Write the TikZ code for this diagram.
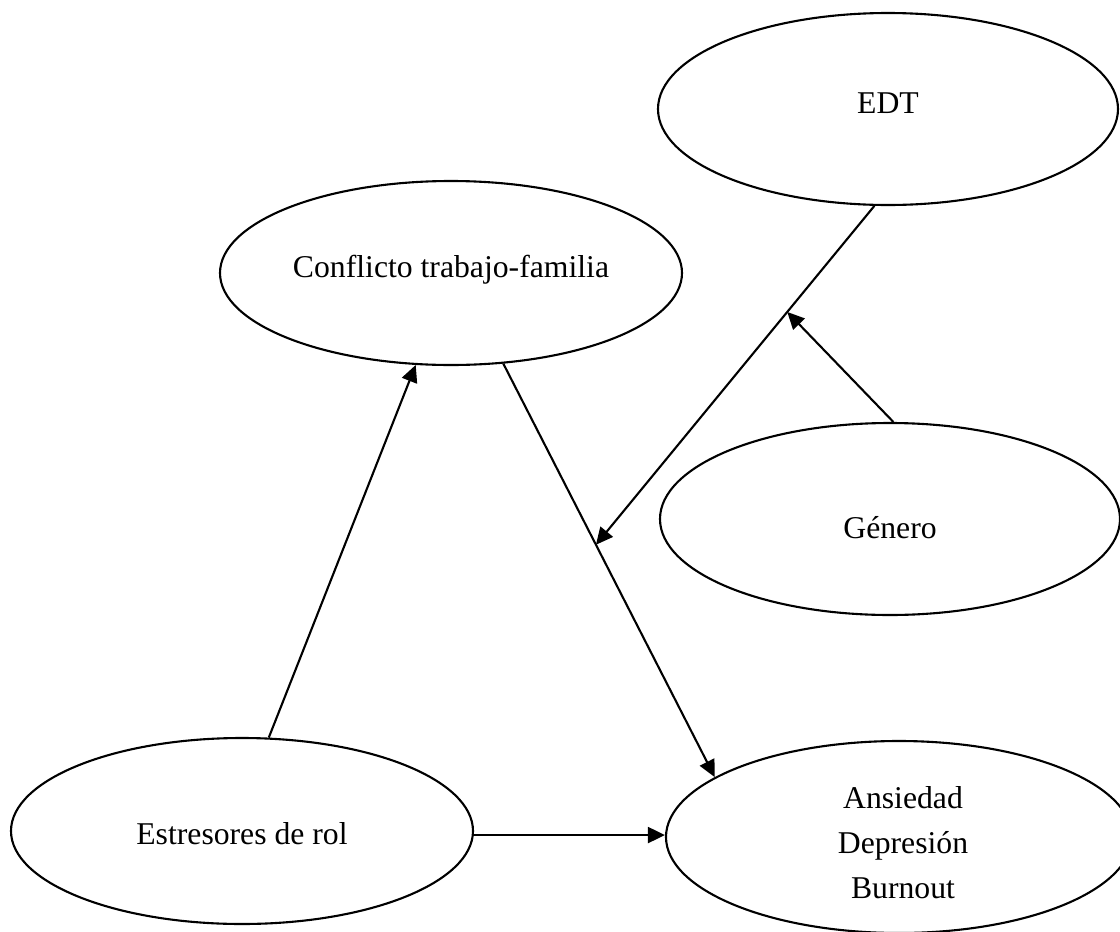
\documentclass[tikz,border=0pt]{standalone}
\usepackage{fontspec}
\setmainfont{Liberation Serif}
\usetikzlibrary{shapes.geometric,arrows.meta,calc}

% move a label inside its ellipse by padding the box above or below
\newcommand{\txtdown}[2]{\raisebox{0pt}[\dimexpr\height+#1\relax][\depth]{#2}}
\newcommand{\txtup}[2]{\raisebox{0pt}[\height][\dimexpr\depth+#1\relax]{#2}}

\begin{document}
\begin{tikzpicture}[x=1pt,y=1pt,
  var/.style={draw, ellipse, line width=2.1pt, inner sep=0pt, align=center,
    font=\fontsize{31.7}{45}\selectfont},
  link/.style={line width=2.1pt, -{Triangle[length=17pt,width=16pt]}}]
  \useasboundingbox (0,0) rectangle (1120,-932);

  % variables
  \node[var, minimum width=460pt, minimum height=192pt] (edt)  at (888,-109) {\txtup{12pt}{EDT}};
  \node[var, minimum width=462pt, minimum height=184pt] (conf) at (451,-273) {\txtup{6pt}{Conflicto trabajo-familia}};
  \node[var, minimum width=460pt, minimum height=192pt] (gen)  at (890,-519) {\txtdown{18pt}{Género}};
  \node[var, minimum width=462pt, minimum height=186pt] (est)  at (242,-831) {\txtdown{5pt}{Estresores de rol}};
  \node[var, minimum width=466pt, minimum height=192pt] (ans)  at (899,-837)
    {\raisebox{-14pt}[0pt][0pt]{\hspace*{8pt}\begin{tabular}{@{}c@{}}Ansiedad\\Depresión\\Burnout\end{tabular}}};

  % direct paths
  \draw[link] (est.74.2) -- (conf.-111);
  \draw[link] (conf.-60.3) -- (ans.162.1);
  \draw[link] (est.-1) -- (est.-1 -| ans.west);

  % moderation paths
  \coordinate (m1) at ($(conf.-60.3)!0.438!(ans.162.1)$);
  \draw[link] (edt.262.4) -- (m1);
  \coordinate (m2) at ($(edt.262.4)!0.313!(m1)$);
  \draw[link] (gen.88.2) -- (m2);
\end{tikzpicture}
\end{document}
